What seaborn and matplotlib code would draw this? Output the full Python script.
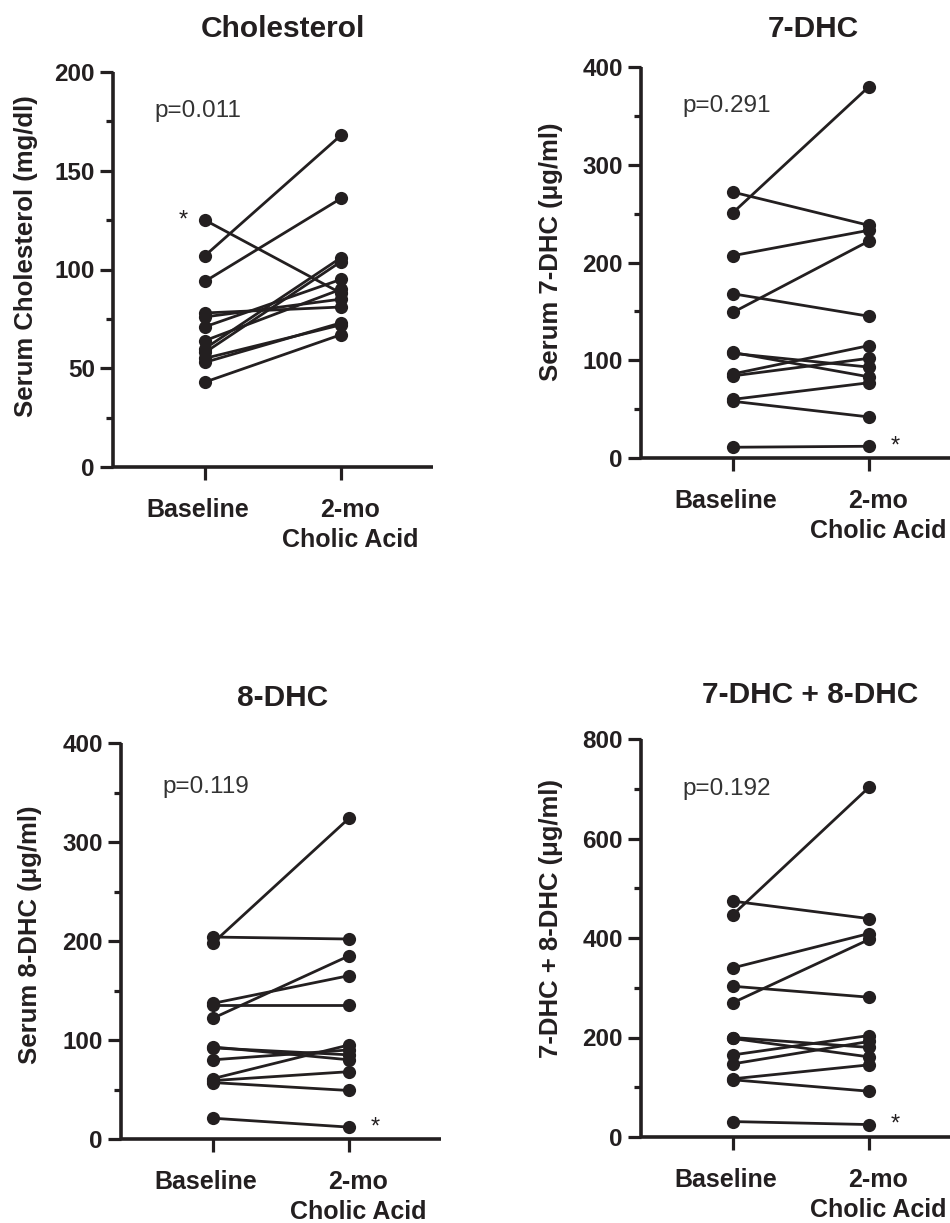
import numpy as np
import pandas as pd
import matplotlib
matplotlib.use("Agg")
import matplotlib.pyplot as plt
import matplotlib.transforms as mtransforms
import seaborn as sns
from matplotlib.ticker import MultipleLocator

# values (12 subjects, baseline vs 2 months)
time_labels = ["Baseline", "2-mo\nCholic Acid"]

chol_base = [125, 107, 94, 78, 76, 71, 64, 60, 58, 55, 53, 43]
chol_2mo = [88, 168, 136, 81, 85, 95, 90, 106, 104, 72, 73, 67]

dhc7_base = [272, 251, 207, 168, 149, 108, 107, 86, 84, 60, 58, 11]
dhc7_2mo = [238, 380, 233, 145, 222, 83, 93, 115, 102, 77, 42, 12]

dhc8_base = [204, 198, 137, 135, 122, 93, 92, 80, 61, 59, 57, 21]
dhc8_2mo = [202, 324, 165, 135, 185, 80, 85, 90, 95, 68, 49, 12]

tot_base = [474, 447, 340, 303, 270, 200, 198, 165, 147, 117, 115, 31]
tot_2mo = [439, 703, 409, 281, 397, 180, 161, 204, 192, 145, 92, 25]

titles = ["Cholesterol", "7-DHC", "8-DHC", "7-DHC + 8-DHC"]
ylabels = ["Serum Cholesterol (mg/dl)", "Serum 7-DHC (μg/ml)",
           "Serum 8-DHC (μg/ml)", "7-DHC + 8-DHC (μg/ml)"]
p_values = ["p=0.011", "p=0.291", "p=0.119", "p=0.192"]
y_max = [200, 400, 400, 800]
y_major = [50, 100, 100, 200]
# which point gets the asterisk: (time index, subject index)
star_at = [(0, 0), (1, 11), (1, 11), (1, 11)]

panels = [(chol_base, chol_2mo), (dhc7_base, dhc7_2mo),
          (dhc8_base, dhc8_2mo), (tot_base, tot_2mo)]

sns.set_style("ticks")
plt.rcParams["font.family"] = ["Liberation Sans", "DejaVu Sans"]
ink = "#231f20"

W, H = 950, 1223
fig = plt.figure(figsize=(W / 100, H / 100), dpi=100)

# axes boxes in pixels: left, top, right, bottom
boxes = [(113, 72, 433, 467), (641, 67, 961, 458),
         (121, 743, 441, 1139), (641, 739, 961, 1137)]
title_pos = [(283, 37), (813, 37), (283, 706), (810, 703)]
ylab_x = [38, 563, 42, 563]
ylab_y = [0.535, 0.527, 0.515, 0.55]
p_pos = [0.885, 0.885, 0.873, 0.86]
label_shift = [-7, 9]  # px, x tick labels sit a bit off the ticks

for i, (base, post) in enumerate(panels):
    l, t, r, b = boxes[i]
    ax = fig.add_axes([l / W, 1 - b / H, (r - l) / W, (b - t) / H])

    n = len(base)
    df = pd.DataFrame({
        "subject": list(range(n)) * 2,
        "time": [0] * n + [1] * n,
        "value": base + post,
    })
    sns.lineplot(data=df, x="time", y="value", units="subject",
                 estimator=None, color=ink, lw=2.0, marker="o",
                 markersize=9.5, markeredgewidth=0, ax=ax, legend=False)

    ax.set_xlim(-0.676, 1.676)
    ax.set_ylim(0, y_max[i])
    ax.set_xticks([0, 1])
    ax.set_xticklabels(time_labels, fontsize=18, fontweight="bold",
                       color=ink, linespacing=1.32)
    ax.yaxis.set_major_locator(MultipleLocator(y_major[i]))
    ax.yaxis.set_minor_locator(MultipleLocator(y_major[i] / 2))
    for lab in ax.get_yticklabels():
        lab.set_fontsize(17.5)
        lab.set_fontweight("bold")
        lab.set_color(ink)
    ax.tick_params(axis="both", which="major", length=9.5, width=2.3,
                   color=ink, pad=3.5)
    ax.tick_params(axis="x", which="major", pad=13)
    ax.tick_params(axis="y", which="minor", length=5, width=2.3, color=ink)
    ax.tick_params(axis="x", which="minor", bottom=False)
    # shift after tick_params, which resets the label transforms
    for tick, dx in zip(ax.xaxis.get_major_ticks(), label_shift):
        off = mtransforms.ScaledTranslation(dx / 100, 0, fig.dpi_scale_trans)
        tick.label1.set_transform(tick.label1.get_transform() + off)
    sns.despine(ax=ax)
    for s in ["left", "bottom"]:
        ax.spines[s].set_linewidth(2.6)
        ax.spines[s].set_color(ink)
        ax.spines[s].set_capstyle("butt")

    ax.set_xlabel("")
    ax.set_ylabel(ylabels[i], fontsize=18.5, fontweight="bold", color=ink)
    ax.yaxis.set_label_coords((ylab_x[i] - l) / (r - l), ylab_y[i])

    ax.text(-0.37, y_max[i] * p_pos[i], p_values[i], fontsize=17.5,
            color="#333333", ha="left", va="baseline")

    ti, si = star_at[i]
    sy = [base, post][ti][si]
    if ti == 0:
        ax.text(-0.16, sy, "*", fontsize=17, color=ink, ha="center",
                va="center")
    else:
        ax.text(1.19, sy, "*", fontsize=17, color=ink, ha="center",
                va="center")

    tx, ty = title_pos[i]
    fig.text(tx / W, 1 - ty / H, titles[i], fontsize=21.5, fontweight="bold",
             color=ink, ha="center", va="baseline")

fig.savefig("out.png", dpi=100)
